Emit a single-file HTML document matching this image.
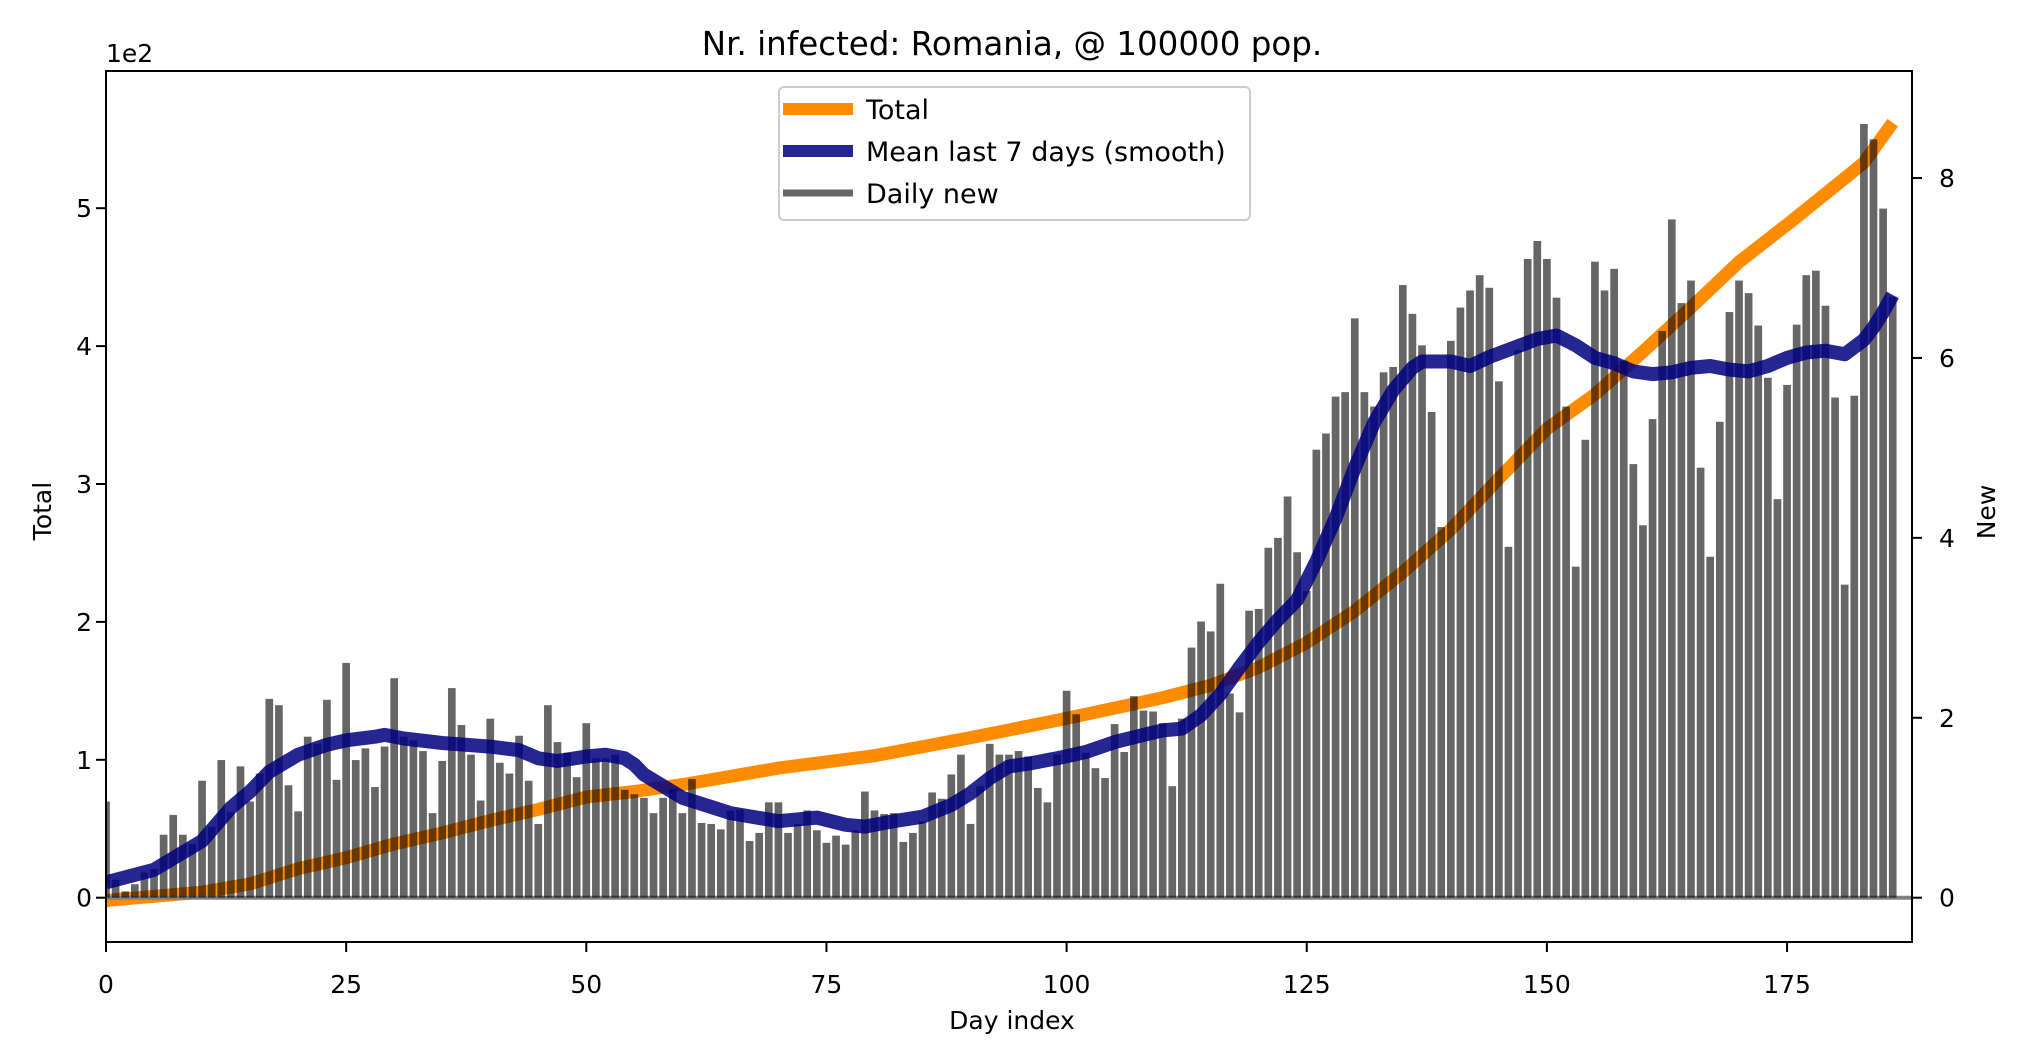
<!DOCTYPE html>
<html><head><meta charset="utf-8"><title>Nr. infected: Romania</title>
<style>
html,body{margin:0;padding:0;background:#fff;}
svg{display:block;font-family:"DejaVu Sans","Liberation Sans",sans-serif;}
</style></head>
<body>
<svg id="chart" width="2018" height="1060" viewBox="0 0 2018 1060" xmlns="http://www.w3.org/2000/svg">
<defs><clipPath id="plotclip"><rect x="106" y="71" width="1806" height="871"/></clipPath></defs>
<rect x="0" y="0" width="2018" height="1060" fill="#fff"/>
<text x="1012" y="55" font-size="32.5" text-anchor="middle" fill="#000">Nr. infected: Romania, @ 100000 pop.</text>
<text x="106" y="62" font-size="25" fill="#000">1e2</text>
<text x="0" y="0" font-size="25" text-anchor="middle" transform="translate(51,511) rotate(-90)">Total</text>
<text x="0" y="0" font-size="25" text-anchor="middle" transform="translate(1995,512) rotate(-90)">New</text>
<text x="1012" y="1029" font-size="25" text-anchor="middle">Day index</text>
<g id="plot" clip-path="url(#plotclip)"></g>
<g id="axes"></g>
<g id="legend"></g>
</svg>
<script>
const days = [];
const dailyNew = [1.07,0.2,0.07,0.15,0.28,0.32,0.7,0.92,0.7,0.6,1.3,0.79,1.53,0.95,1.46,1.07,1.38,2.21,2.14,1.25,0.96,1.79,1.71,2.2,1.31,2.61,1.53,1.66,1.23,1.68,2.44,1.79,1.75,1.63,0.94,1.52,2.33,1.92,1.59,1.08,1.99,1.5,1.38,1.8,1.3,0.82,2.14,1.73,1.61,1.34,1.94,
1.55,1.55,1.59,1.2,1.15,1.11,0.94,1.11,1.21,0.94,1.32,0.83,0.82,0.76,0.97,0.98,0.63,0.72,1.06,1.06,0.72,0.82,0.97,0.75,0.61,0.69,0.59,0.75,1.18,
0.97,0.93,0.94,0.62,0.72,0.85,1.17,1.10,1.37,1.59,0.82,1.24,1.71,1.59,1.59,1.63,1.57,1.22,1.06,1.59,2.30,2.04,1.61,1.44,1.33,1.93,1.62,2.24,2.08,2.07,1.94,1.24,
1.99,2.78,3.07,2.96,3.49,2.27,2.06,3.19,3.21,3.89,4.00,4.46,3.84,3.41,4.98,5.16,5.57,5.62,6.44,5.62,5.46,5.84,5.9,6.81,6.49,6.14,5.40,4.12,6.19,6.56,6.75,6.92,6.78,5.74,3.90,6.09,7.10,
7.30,7.10,6.67,5.46,3.68,5.09,7.07,6.75,6.99,5.97,4.82,4.14,5.32,6.30,7.54,6.61,6.86,4.78,3.79,5.29,6.51,6.86,6.72,6.36,5.78,4.43,5.70,6.37,6.92,6.97,6.58,5.56,3.48,5.58,8.60,8.43,7.66,6.68];
for (let i = 0; i < dailyNew.length; i++) days.push(i);

const totalDays = [0,5,10,15,20,25,30,35,40,45,50,55,60,70,80,90,100,110,115,120,125,130,135,140,145,150,155,160,165,170,175,180,183,186];
const totalValues = [-2,1,4,10,21,29,39,47,56,64,73,77,82,94,103,116,130,145,154,167,185,208,236,267,304,340,365,396,428,461,488,516,533,562];

const meanDays = [0,5,10,13,15,17,20,23,25,28,29,31,35,40,43,45,47,50,52,54,55,56,58,60,65,70,74,77,79,82,85,88,90,92,94,96,99,102,105,108,110,112,114,116,118,120,122,124,126,128,130,132,134,136,137,140,142,144,146,148,149,151,153,155,157,159,161,163,165,167,169,171,173,175,177,179,181,183,184,185,186];
const meanValues = [0.17,0.31,0.63,1.0,1.18,1.40,1.59,1.70,1.75,1.79,1.81,1.77,1.72,1.68,1.64,1.55,1.52,1.57,1.59,1.55,1.48,1.37,1.24,1.11,0.94,0.85,0.89,0.81,0.79,0.85,0.90,1.03,1.16,1.33,1.46,1.49,1.55,1.62,1.73,1.81,1.86,1.88,2.03,2.26,2.56,2.84,3.09,3.31,3.74,4.22,4.78,5.28,5.64,5.89,5.96,5.96,5.91,6.01,6.09,6.17,6.21,6.25,6.14,6.0,5.94,5.85,5.82,5.84,5.89,5.91,5.87,5.85,5.91,6.0,6.06,6.08,6.04,6.20,6.34,6.51,6.70];

const xTicks = [0,25,50,75,100,125,150,175];
const leftTicks = [0,100,200,300,400,500];
const leftTickLabels = ["0","1","2","3","4","5"];
const rightTicks = [0,2,4,6,8];
const rightTickLabels = ["0","2","4","6","8"];

const NS = "http://www.w3.org/2000/svg";
const X0 = 106, X1 = 1912, Y0 = 897.7, YTOP = 71, YBOT = 942;
function xS(d){ return X0 + d * 9.606; }
function yL(v){ return Y0 - v * 1.379; }
function yR(v){ return Y0 - v * 89.96; }
function mk(tag, attrs, parent){
  const e = document.createElementNS(NS, tag);
  for (const k in attrs) e.setAttribute(k, attrs[k]);
  parent.appendChild(e);
  return e;
}
const plot = document.getElementById('plot');
const axes = document.getElementById('axes');
const legend = document.getElementById('legend');

let pts = totalDays.map((d,i)=> xS(d).toFixed(1)+','+yL(totalValues[i]).toFixed(1)).join(' ');
const tl = mk('polyline', {points: pts, fill:'none', stroke:'#ff8c00', 'stroke-width':13, 'stroke-linejoin':'round'}, plot);



const zl = mk('line', {x1:X0, x2:X1, y1:Y0, y2:Y0, stroke:'#808080', 'stroke-width':4}, plot);



const bw = 0.8 * 9.606;
days.forEach((d,i)=>{
  const v = dailyNew[i];
  const b = mk('rect', {x:(xS(d)-bw/2).toFixed(2), y:yR(v).toFixed(2), width:bw.toFixed(2), height:(Y0-yR(v)).toFixed(2), fill:'#000', 'fill-opacity':0.6}, plot);
  
  
});

pts = meanDays.map((d,i)=> xS(d).toFixed(1)+','+yR(meanValues[i]).toFixed(1)).join(' ');
const ml = mk('polyline', {points: pts, fill:'none', stroke:'#000080', 'stroke-opacity':0.85, 'stroke-width':14, 'stroke-linejoin':'round'}, plot);



const fr = mk('rect', {x:X0, y:YTOP, width:X1-X0, height:YBOT-YTOP, fill:'none', stroke:'#000', 'stroke-width':2}, axes);



xTicks.forEach(t=>{
  const x = xS(t);
  mk('line', {x1:x, x2:x, y1:YBOT, y2:YBOT+10, stroke:'#000', 'stroke-width':2}, axes);
  const tx = mk('text', {x:x, y:993, 'font-size':25, 'text-anchor':'middle'}, axes);
  tx.textContent = String(t);
  
  
});
leftTicks.forEach((t,i)=>{
  const y = yL(t);
  mk('line', {x1:X0-10, x2:X0, y1:y, y2:y, stroke:'#000', 'stroke-width':2}, axes);
  const tx = mk('text', {x:92, y:y+9, 'font-size':25, 'text-anchor':'end'}, axes);
  tx.textContent = leftTickLabels[i];
  
  
});
rightTicks.forEach((t,i)=>{
  const y = yR(t);
  mk('line', {x1:X1, x2:X1+10, y1:y, y2:y, stroke:'#000', 'stroke-width':2}, axes);
  const tx = mk('text', {x:1939, y:y+9, 'font-size':25, 'text-anchor':'start'}, axes);
  tx.textContent = rightTickLabels[i];
  
  
});

const lb = mk('rect', {x:779, y:87, width:471, height:133, rx:5, fill:'#fff', 'fill-opacity':0.8, stroke:'#cccccc', 'stroke-width':2}, legend);


const legItems = [
  {label:'Total', color:'#ff8c00', op:1, w:12, y:109},
  {label:'Mean last 7 days (smooth)', color:'#000080', op:0.85, w:12, y:151},
  {label:'Daily new', color:'#000', op:0.6, w:7, y:193}
];
legItems.forEach(it=>{
  const ln = mk('line', {x1:783, x2:853, y1:it.y, y2:it.y, stroke:it.color, 'stroke-opacity':it.op, 'stroke-width':it.w}, legend);
  
  
  const tx = mk('text', {x:866, y:it.y+10, 'font-size':27}, legend);
  tx.textContent = it.label;
  
  
});
</script>
</body></html>
